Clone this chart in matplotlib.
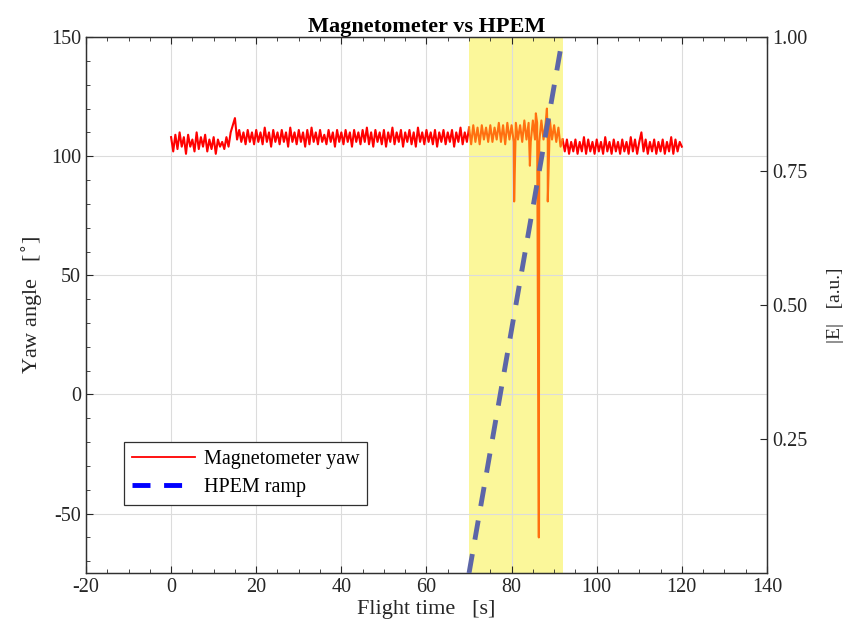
import numpy as np
import matplotlib
matplotlib.use("Agg")
import matplotlib.pyplot as plt
from matplotlib.lines import Line2D
from matplotlib.ticker import MultipleLocator

plt.rcParams['font.family'] = ['Liberation Serif', 'DejaVu Serif']
plt.rcParams['axes.unicode_minus'] = False

# magnetometer yaw [deg], sampled every 0.5 s from 0 to 120 s (no glitches)
yaw_deg = [
    108, 102, 109, 103, 110, 104, 108, 101, 109, 104,
    107, 102, 110, 103, 108, 104, 109, 102, 107, 103,
    108, 101, 107, 104, 106, 103, 108, 104, 110, 113,
    116, 107, 111, 106, 110, 105, 111, 106, 110, 105,
    111, 106, 110, 105, 112, 106, 110, 104, 111, 106,
    110, 105, 111, 106, 110, 104, 112, 106, 110, 105,
    111, 106, 110, 104, 111, 105, 112, 106, 110, 105,
    111, 106, 109, 105, 111, 106, 110, 104, 111, 106,
    110, 105, 111, 106, 110, 104, 111, 106, 110, 105,
    111, 106, 112, 105, 110, 104, 111, 106, 110, 105,
    111, 104, 110, 106, 112, 105, 110, 106, 111, 104,
    110, 106, 111, 105, 110, 104, 112, 106, 110, 105,
    111, 106, 110, 105, 111, 104, 110, 106, 111, 105,
    110, 106, 111, 104, 110, 106, 112, 105, 110, 106,
    112, 105, 113, 106, 112, 105, 113, 107, 112, 106,
    113, 106, 112, 107, 114, 106, 113, 105, 114, 107,
    113, 106, 114, 107, 113, 106, 115, 107, 114, 106,
    115, 107, 114, 106, 115, 107, 114, 106, 115, 107,
    113, 106, 112, 104, 107, 102, 107, 101, 106, 102,
    107, 101, 106, 102, 108, 101, 107, 102, 106, 101,
    107, 102, 106, 101, 108, 102, 106, 101, 107, 102,
    106, 101, 107, 102, 106, 101, 108, 102, 107, 101,
    106, 110, 102, 107, 101, 106, 102, 107, 101, 106,
    102, 107, 101, 106, 102, 108, 101, 107, 102, 106,
    104,
]
time_s = list(np.arange(len(yaw_deg)) * 0.5)

# short glitches inside the HPEM window
glitch_t = [80.6, 84.3, 85.7, 86.4, 88.3, 88.5]
glitch_v = [81, 96, 118, -60, 120, 81]

hpem_window = (70, 92)
hpem_t = [70, 92]
hpem_e = [0.0, 1.0]

t = np.array(time_s + glitch_t)
y = np.array(yaw_deg + glitch_v, dtype=float)
order = np.argsort(t, kind='stable')
t, y = t[order], y[order]

fig = plt.figure(figsize=(8.47, 6.39), dpi=100)
ax = fig.add_axes([0.1015, 0.103, 0.804, 0.839])

ax.axvspan(*hpem_window, color='#fbf79a', zorder=0, lw=0)

in_win = (t >= hpem_window[0]) & (t <= hpem_window[1])
before = t <= hpem_window[0]
after = t >= hpem_window[1]
ax.plot(t[before], y[before], color='#ff0000', lw=1.5, zorder=3)
ax.plot(t[after], y[after], color='#ff0000', lw=1.5, zorder=3)
ax.plot(t[in_win], y[in_win], color='#ff7010', lw=1.5, zorder=3)

ax.set_xlim(-20, 140)
ax.set_ylim(-75, 150)
ax.set_xticks(np.arange(-20, 141, 20))
ax.set_yticks([-50, 0, 50, 100, 150])
ax.xaxis.set_minor_locator(MultipleLocator(5))
ax.yaxis.set_minor_locator(MultipleLocator(10))
ax.tick_params(which='both', direction='in', top=True, right=False,
               labelsize=14.5, colors='#262626')
ax.tick_params(which='major', length=5)
ax.tick_params(which='minor', length=3)
ax.grid(which='major', color='#dcdcdc', lw=0.8, zorder=1)
ax.set_axisbelow(True)

ax.set_xlabel('Flight time   [s]', fontsize=16, color='#262626', labelpad=2)
ax.set_ylabel('Yaw angle   [$^{\\circ}$]', fontsize=16, color='#262626')
ax.set_title('Magnetometer vs HPEM', fontsize=16, fontweight='bold', pad=4)

ax2 = ax.twinx()
ax2.plot(hpem_t, hpem_e, color='#5d66a8', lw=3.5, dashes=(4, 3), zorder=4)
ax2.set_ylim(0, 1)
ax2.set_yticks([0.25, 0.5, 0.75, 1.0])
ax2.set_yticklabels(['0.25', '0.50', '0.75', '1.00'])
ax2.tick_params(direction='in', length=5, labelsize=14.5, colors='#262626')
ax2.set_ylabel('|E|   [a.u.]', fontsize=14, color='#262626', labelpad=14)

for a in (ax, ax2):
    for s in a.spines.values():
        s.set_color('#303030')
        s.set_linewidth(0.9)

handles = [Line2D([], [], color='#ff0000', lw=1.3),
           Line2D([], [], color='#0000ff', lw=3.5, dashes=(3.7, 2.8))]
leg = ax2.legend(handles, ['Magnetometer yaw', 'HPEM ramp'], loc='lower left',
                 bbox_to_anchor=(0.056, 0.127), fontsize=14.5, fancybox=False,
                 framealpha=1, edgecolor='#303030', borderaxespad=0,
                 handlelength=3.1, labelspacing=0.45, borderpad=0.4,
                 handletextpad=0.45)
leg.get_frame().set_linewidth(0.9)

fig.savefig('out.png', dpi=100)
